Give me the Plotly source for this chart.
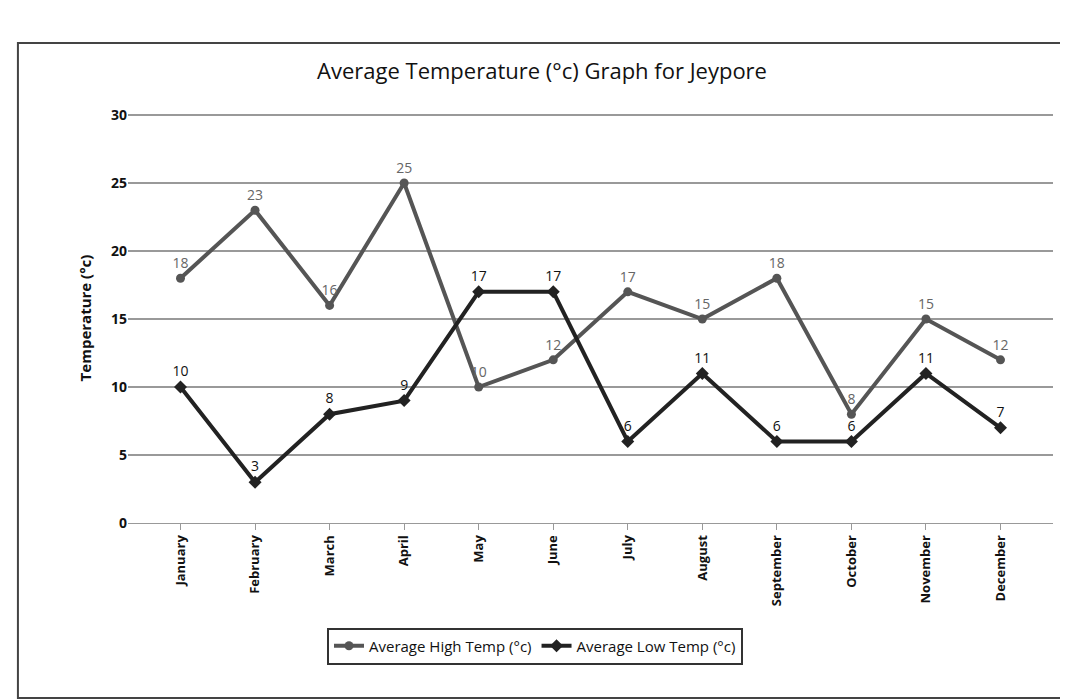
import plotly.graph_objects as go

months = ["January", "February", "March", "April", "May", "June", "July",
          "August", "September", "October", "November", "December"]
high_temp = [18, 23, 16, 25, 10, 12, 17, 15, 18, 8, 15, 12]
low_temp = [10, 3, 8, 9, 17, 17, 6, 11, 6, 6, 11, 7]
y_ticks = [0, 5, 10, 15, 20, 25, 30]

fig = go.Figure()
fig.add_trace(go.Scatter(
    x=months, y=high_temp, name="Average High Temp (°c)",
    mode="lines+markers+text", text=[str(v) for v in high_temp],
    textposition="top center", textfont=dict(color="#666666", size=14),
    line=dict(color="#555555", width=4),
    marker=dict(symbol="circle", size=9, color="#555555")))
fig.add_trace(go.Scatter(
    x=months, y=low_temp, name="Average Low Temp (°c)",
    mode="lines+markers+text", text=[str(v) for v in low_temp],
    textposition="top center", textfont=dict(color="#111111", size=14),
    line=dict(color="#222222", width=4),
    marker=dict(symbol="diamond", size=10, color="#222222")))

fig.update_layout(
    width=1068, height=699,
    font=dict(family="Open Sans, DejaVu Sans, sans-serif", color="#111111"),
    title=dict(text="Average Temperature (°c) Graph for Jeypore",
               x=0.5, xanchor="center", y=0.91, yanchor="middle",
               font=dict(size=22, color="#111111")),
    paper_bgcolor="white", plot_bgcolor="white",
    margin=dict(l=120, r=23, t=105, b=184),
    showlegend=True,
    legend=dict(orientation="h", x=0.44, xanchor="center", y=-0.255, yanchor="top",
                bordercolor="#333333", borderwidth=2, font=dict(size=15)),
    xaxis=dict(showgrid=False, tickangle=-90, ticks="outside", ticklen=6,
               tickfont=dict(size=13), showline=True, linecolor="#999999",
               tickcolor="#999999",
               tickvals=months, ticktext=["<b>" + m + "</b>" for m in months]),
    yaxis=dict(range=[0, 30.15], tickvals=y_ticks,
               ticktext=["<b>" + str(v) + "</b>" for v in y_ticks],
               showgrid=True, gridcolor="#999999", gridwidth=1.5, zeroline=False,
               tickfont=dict(size=14),
               title=dict(text="<b>Temperature (°c)</b>", font=dict(size=15))),
    shapes=[dict(type="rect", xref="paper", yref="paper",
                 x0=-0.119, x1=1.012, y0=-0.427, y1=1.171,
                 line=dict(color="#444444", width=2))],
)

fig.write_html("out.html")
